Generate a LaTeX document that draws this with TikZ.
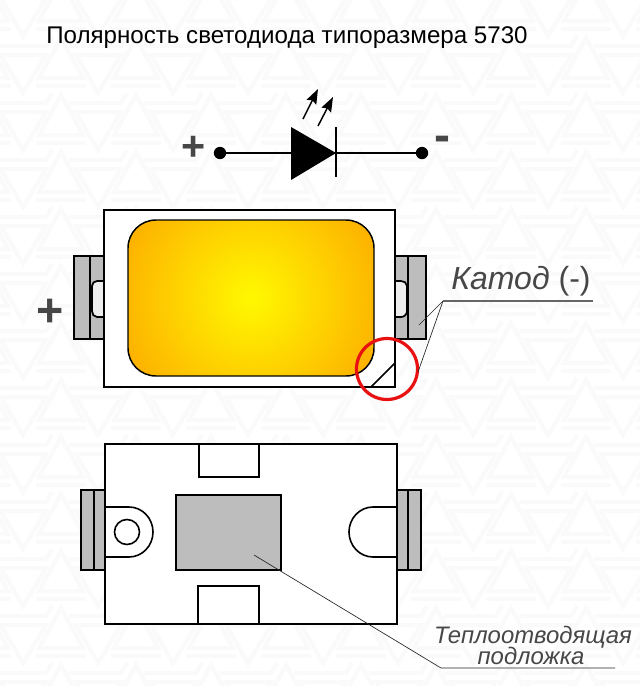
\documentclass[tikz,border=0pt]{standalone}
\usepackage{fontspec}
\usetikzlibrary{arrows.meta}
\setmainfont{Liberation Sans}
\definecolor{wm}{HTML}{FAFAFA}
\begin{document}
\begin{tikzpicture}[x=0.75pt,y=-0.75pt,
  body/.style={draw=black,line width=1.7pt,fill=white},
  pad/.style={draw=black,line width=1.4pt,fill=black!26},
  notch/.style={draw=black,line width=1.3pt,fill=black!7},
  thin leader/.style={draw=black!85,line width=0.5pt},
  under/.style={draw=black!60,line width=0.9pt},
  lbl/.style={text=black!72,inner sep=0pt,anchor=base},
  wire/.style={line width=1.1pt},
  ray/.style={line width=1.1pt,-{Stealth[length=11pt,width=8pt,inset=1.5pt]}}]
\useasboundingbox (0,0) rectangle (640,686);
\fill[white] (0,0) rectangle (640,686);
% watermark
\begin{scope}
\clip (0,0) rectangle (640,686);
\foreach \row in {-1,...,12}{
 \foreach \col in {-1,...,9}{
  \begin{scope}[shift={({\col*75+(-14)},{\row*57+(-19)})}]
   \draw[wm,line width=3pt] (75,0) -- (53,40) -- (97,40) -- cycle;
   \draw[wm,line width=3pt] (15,17) -- (60,17) -- (37,55) -- cycle;
   \draw[wm,line width=3pt] (50,48) -- (100,48);
   \draw[wm,line width=3pt] (8,8) -- (60,8) -- (66,-2);
  \end{scope}
 }
}
\end{scope}
% title
\node[inner sep=0pt,anchor=base west,font=\fontsize{18.1pt}{20pt}\selectfont] (title) at (46,43) {Полярность светодиода типоразмера 5730};
% diode symbol
\coordinate (dl) at (220,153);
\coordinate (dr) at (422,153);
\draw[wire] (dl) -- (dr);
\fill (dl) circle (6.2);
\fill (dr) circle (6.2);
\fill (291,127) -- (336,153) -- (291,180) -- cycle;
\draw[wire] (336,127) -- (336,177);
\draw[ray] (303,119) -- (318,89);
\draw[ray] (318,126) -- (333,97);
\node[lbl,font=\bfseries\fontsize{31pt}{31pt}\selectfont] (plusa) at (194,160.5) {+};
\node[lbl,font=\bfseries\fontsize{36pt}{36pt}\selectfont] (minusa) at (442,151) {-};
% top view: pads
\draw[pad] (74,256) rectangle (104,339);
\draw[pad,line width=1.1pt] (90,256) -- (90,339);
\draw[notch] (104,281) -- (97,281) to[out=180,in=90] (92,286) -- (92,311) to[out=270,in=180] (97,317) -- (104,317);
\draw[pad] (395,256) rectangle (426,339);
\draw[pad,line width=1.1pt] (408,256) -- (408,339);
\draw[notch] (395,281) -- (401,281) to[out=0,in=90] (407,286) -- (407,311) to[out=270,in=0] (401,317) -- (395,317);
% top view: body
\draw[body] (104,210) rectangle (395,387);
\begin{scope}
\clip[rounded corners=21] (128,220) rectangle (374,376);
\shade[inner color=yellow!95!orange,outer color={rgb,255:red,253;green,178;blue,0}] (251,298) circle (135);
\end{scope}
\draw[line width=1.1pt,rounded corners=21] (128,220) rectangle (374,376);
\draw[line width=1.3pt] (371,387) -- (395,363);
\draw[draw={rgb,255:red,232;green,16;blue,16},line width=2.4pt] (387,369) circle (30.5);
\node[lbl,font=\bfseries\fontsize{35pt}{35pt}\selectfont] (plusb) at (50,326) {+};
% leaders
\coordinate (kk) at (443,301);
\coordinate (kend) at (593,301);
\draw[under] (kk) -- (kend);
\draw[thin leader] (kk) -- (419,325);
\draw[thin leader] (kk) -- (418,372);
\node[lbl,anchor=base west,font=\fontsize{24pt}{24pt}\selectfont] (kat) at (451,289) {\textit{Катод} (-)};
% bottom view: pads
\draw[pad] (81,490) rectangle (105,570);
\draw[pad,line width=1.1pt] (94,490) -- (94,570);
\draw[pad] (397,490) rectangle (421,570);
\draw[pad,line width=1.1pt] (408,490) -- (408,570);
\draw[body] (105,444) rectangle (397,624);
\draw[line width=1.2pt,fill=white] (199,444) rectangle (259,477);
\draw[line width=1.2pt,fill=white] (198,586) rectangle (259,624);
\draw[line width=1.2pt,fill=black!26] (176,495) rectangle (281,570);
\draw[line width=1.2pt] (105,507) -- (129,507) arc (-90:90:24 and 25) -- (105,557);
\draw[line width=1.2pt] (127,532) circle (12.5);
\draw[line width=1.2pt] (397,507) -- (373,507) arc (270:90:24 and 25) -- (397,557);
% heat sink leader
\coordinate (hs) at (254,555);
\coordinate (hk) at (441,668);
\coordinate (hend) at (615,668);
\draw[thin leader] (hs) -- (hk) -- (hend);
\node[lbl,font=\itshape\fontsize{17.9pt}{18pt}\selectfont] (hl1) at (533,643) {Теплоотводящая};
\node[lbl,font=\itshape\fontsize{17.9pt}{18pt}\selectfont] (hl2) at (531,664.5) {подложка};
\end{tikzpicture}
\end{document}
